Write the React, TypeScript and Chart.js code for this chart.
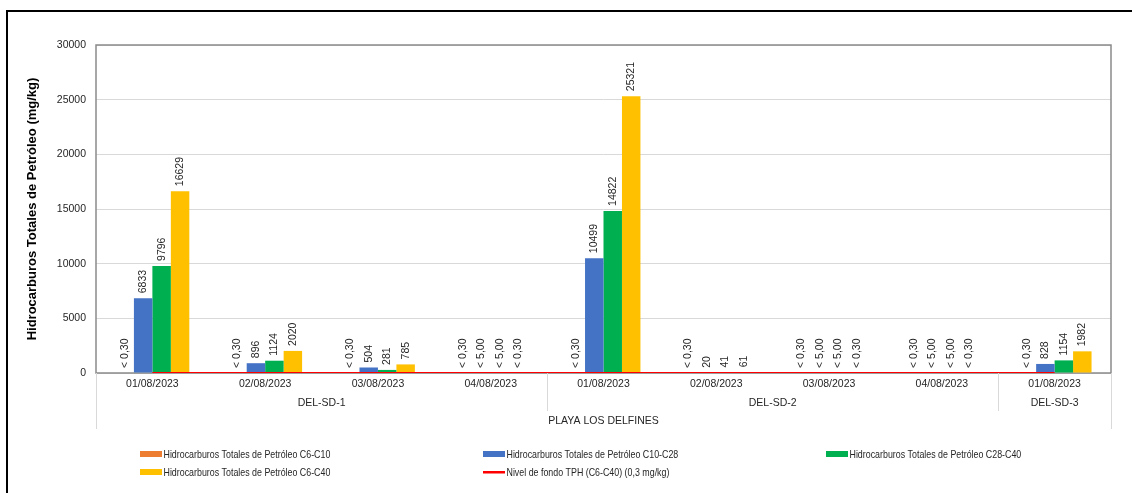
import React, { useEffect, useRef } from "react";
import { Chart, registerables } from "chart.js";

Chart.register(...registerables);

// ---- data ----
const categories = [
  "01/08/2023", "02/08/2023", "03/08/2023", "04/08/2023",
  "01/08/2023", "02/08/2023", "03/08/2023", "04/08/2023",
  "01/08/2023",
];
const stations = ["DEL-SD-1", "DEL-SD-2", "DEL-SD-3"];
const stationSpans = [4, 4, 1];
const beachName = "PLAYA LOS DELFINES";

// numbers are measured values, strings are "below detection limit" results
const tphC6C10: (number | string)[] = ["< 0,30", "< 0,30", "< 0,30", "< 0,30", "< 0,30", "< 0,30", "< 0,30", "< 0,30", "< 0,30"];
const tphC10C28: (number | string)[] = [6833, 896, 504, "< 5,00", 10499, 20, "< 5,00", "< 5,00", 828];
const tphC28C40: (number | string)[] = [9796, 1124, 281, "< 5,00", 14822, 41, "< 5,00", "< 5,00", 1154];
const tphC6C40: (number | string)[] = [16629, 2020, 785, "< 0,30", 25321, 61, "< 0,30", "< 0,30", 1982];
const backgroundLevel = [0.3, 0.3, 0.3, 0.3, 0.3, 0.3, 0.3, 0.3, 0.3];

const yMin = 0;
const yMax = 30000;
const yStep = 5000;

const seriesNames = [
  "Hidrocarburos Totales de Petróleo C6-C10",
  "Hidrocarburos Totales de Petróleo C10-C28",
  "Hidrocarburos Totales de Petróleo C28-C40",
  "Hidrocarburos Totales de Petróleo C6-C40",
  "Nivel de fondo TPH (C6-C40) (0,3 mg/kg)",
];
const yTitle = "Hidrocarburos Totales de Petróleo (mg/kg)";

// ---- styles ----
const colors = ["#ED7D31", "#4472C4", "#00B050", "#FFC000", "#FF0000"];
const FONT = '"Liberation Sans", Arial, sans-serif';
const TEXT = "#262626";

const toValue = (v: number | string) => (typeof v === "number" ? v : 0);
const toLabel = (v: number | string) => (typeof v === "number" ? String(v) : v);

const barSeries = [tphC6C10, tphC10C28, tphC28C40, tphC6C40];

const customPlugin = {
  id: "customDraw",
  beforeDatasetsDraw(chart: any) {
    const { ctx, chartArea: a } = chart;
    ctx.save();
    ctx.strokeStyle = "#8a8a8a";
    ctx.lineWidth = 1.5;
    ctx.strokeRect(a.left, a.top, a.right - a.left, a.bottom - a.top);
    ctx.restore();
  },
  afterDatasetsDraw(chart: any) {
    const { ctx } = chart;
    ctx.save();
    ctx.font = `10.5px ${FONT}`;
    ctx.fillStyle = TEXT;
    ctx.textAlign = "left";
    ctx.textBaseline = "middle";
    barSeries.forEach((series, di) => {
      const meta = chart.getDatasetMeta(di);
      meta.data.forEach((el: any, i: number) => {
        const label = toLabel(series[i]);
        ctx.save();
        ctx.translate(el.x, el.y - 5);
        ctx.rotate(-Math.PI / 2);
        ctx.fillText(label, 0, 0);
        ctx.restore();
      });
    });
    ctx.restore();
  },
  afterDraw(chart: any) {
    const { ctx, chartArea: a } = chart;
    const xs = chart.scales.x;
    const n = categories.length;
    const step = (a.right - a.left) / n;
    ctx.save();
    // category separators
    ctx.strokeStyle = "#d9d9d9";
    ctx.lineWidth = 1;
    const vline = (x: number, y2: number) => {
      ctx.beginPath();
      ctx.moveTo(Math.round(x) + 0.5, a.bottom);
      ctx.lineTo(Math.round(x) + 0.5, y2);
      ctx.stroke();
    };
    vline(a.left, 429);
    vline(a.right, 429);
    ctx.font = `10.5px ${FONT}`;
    ctx.fillStyle = TEXT;
    ctx.textAlign = "center";
    ctx.textBaseline = "middle";
    categories.forEach((c, i) => ctx.fillText(c, xs.getPixelForValue(i), 384));
    let start = 0;
    stationSpans.forEach((span, k) => {
      const l = a.left + start * step;
      const r = l + span * step;
      ctx.fillText(stations[k], (l + r) / 2, 403);
      if (start > 0) vline(l, 411);
      start += span;
    });
    ctx.fillText(beachName, (a.left + a.right) / 2, 421);

    // legend (condensed text, as in the reference)
    const cols = [140, 483, 826];
    const rows = [454, 472];
    ctx.font = `11.5px ${FONT}`;
    ctx.textAlign = "left";
    const order = [0, 1, 2, 3, 4];
    order.forEach((si, k) => {
      const x = cols[k % 3];
      const y = rows[Math.floor(k / 3)];
      ctx.fillStyle = colors[si];
      if (si === 4) {
        ctx.fillRect(x, y - 1, 22, 2.5);
      } else {
        ctx.fillRect(x, y - 3, 22, 6);
      }
      ctx.fillStyle = TEXT;
      ctx.save();
      ctx.translate(x + 23.5, y + 0.5);
      ctx.scale(0.77, 1);
      ctx.fillText(seriesNames[si], 0, 0);
      ctx.restore();
    });
    ctx.restore();
  },
};

export default function App() {
  const canvasRef = useRef<HTMLCanvasElement | null>(null);

  useEffect(() => {
    document.body.style.margin = "0";
    const canvas = canvasRef.current;
    if (!canvas) return;
    const chart = new Chart(canvas, {
      type: "bar",
      data: {
        labels: categories,
        datasets: [
          ...barSeries.map((s, i) => ({
            type: "bar" as const,
            label: seriesNames[i],
            data: s.map(toValue),
            backgroundColor: colors[i],
            borderWidth: 0,
            categoryPercentage: 0.655,
            barPercentage: 1,
            order: 1,
          })),
          {
            type: "line" as const,
            label: seriesNames[4],
            data: backgroundLevel,
            borderColor: colors[4],
            backgroundColor: colors[4],
            borderWidth: 2,
            pointRadius: 0,
            fill: false,
            order: 0,
          },
        ],
      } as any,
      options: {
        responsive: false,
        animation: false,
        devicePixelRatio: 1,
        layout: { padding: { left: 21, top: 45, right: 21, bottom: 120 } },
        plugins: {
          legend: { display: false },
          tooltip: { enabled: false },
        },
        scales: {
          x: {
            offset: true,
            ticks: { display: false },
            grid: { display: false },
            border: { display: false },
            afterFit: (s: any) => {
              s.height = 0;
            },
          },
          y: {
            min: yMin,
            max: yMax,
            ticks: {
              stepSize: yStep,
              padding: 10,
              color: TEXT,
              font: { family: FONT, size: 10.5 },
              callback: (v: any) => String(v),
            },
            grid: { color: "#d9d9d9", lineWidth: 1, drawTicks: false },
            border: { display: false },
            title: {
              display: true,
              text: yTitle,
              color: "#000",
              font: { family: FONT, size: 13, weight: "bold" },
              padding: { top: 4, bottom: 0 },
            },
            afterFit: (s: any) => {
              s.width = 75;
            },
          },
        },
      } as any,
      plugins: [customPlugin],
    });
    return () => chart.destroy();
  }, []);

  return (
    <div style={{ position: "relative", width: 1132, height: 493, overflow: "hidden", background: "#fff" }}>
      <canvas
        ref={canvasRef}
        width={1132}
        height={493}
        style={{ position: "absolute", left: 0, top: 0, width: 1132, height: 493 }}
      />
      <div
        style={{
          position: "absolute",
          left: 6,
          top: 10,
          width: 1140,
          height: 500,
          borderLeft: "2px solid #000",
          borderTop: "2px solid #000",
          boxSizing: "border-box",
          pointerEvents: "none",
        }}
      />
    </div>
  );
}
